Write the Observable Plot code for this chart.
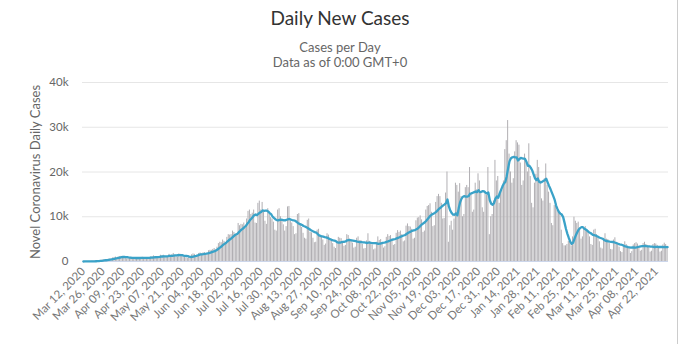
<!DOCTYPE html>
<html><head><meta charset="utf-8">
<script src="https://cdn.jsdelivr.net/npm/d3@7"></script>
<script src="https://cdn.jsdelivr.net/npm/@observablehq/plot@0.6"></script>
<style>
body{margin:0;background:#fff;font-family:Lato,"Liberation Sans",sans-serif;}
#wrap{position:relative;width:680px;height:344px;overflow:hidden;}
#title{position:absolute;left:0;width:680px;top:6px;text-align:center;font-size:19px;color:#333;}
.sub{position:absolute;left:0;width:680px;text-align:center;font-size:13px;color:#666;line-height:14px;}
#ylab{position:absolute;left:35px;top:172px;transform:translate(-50%,-50%) rotate(-90deg);white-space:nowrap;font-size:13px;color:#666;}
#chart{position:absolute;left:0;top:72px;}
#border{position:absolute;left:677px;top:0;width:1px;height:344px;background:#ccc;}
</style></head>
<body>
<div id="wrap">
  <div id="title">Daily New Cases</div>
  <div class="sub" style="top:40px">Cases per Day</div>
  <div class="sub" style="top:55px">Data as of 0:00 GMT+0</div>
  <div id="ylab">Novel Coronavirus Daily Cases</div>
  <div id="chart"></div>
  <div id="border"></div>
</div>
<script>
// Daily new cases, one value per day from Mar 12, 2020
const firstDay = "2020-03-12";
const cases = [
5,8,12,16,20,30,60,
80,100,120,130,180,220,280,
350,420,380,380,500,550,600,
800,900,1000,800,1000,1100,1150,
1100,900,900,600,650,900,800,
900,850,800,650,600,850,900,
950,900,850,700,650,900,1000,
1100,1250,1050,900,800,1150,1400,
1300,1400,1200,900,900,1600,1350,
1500,1800,1400,1100,1000,1700,1600,
1300,1150,1050,800,700,950,1100,
1500,1700,1600,1300,1300,1800,1900,
1700,1900,2000,1600,1700,2400,2500,
2500,2700,2900,2600,3200,4000,4300,
4200,4800,4500,4000,5400,6000,5900,
6000,6800,6500,5600,6200,8500,8000,
8300,8200,8600,7400,9500,11200,11500,
10500,10800,11500,8600,8500,13000,13500,
11500,13200,11000,9000,8300,11800,11000,
9800,9500,8800,7000,6800,11500,11800,
10000,9200,8200,6800,7800,12200,12300,
9000,8600,7800,6000,6200,10500,10700,
8200,7600,6300,5200,5000,9200,9500,
6500,6400,5200,4200,4300,7000,7200,
5800,5500,4800,3600,3900,6200,5900,
4900,4600,4000,3200,2900,4400,5400,
5200,5100,4500,3400,3600,6000,5800,
5000,4800,4100,3000,3200,5200,5500,
4600,4700,3800,2800,2900,4600,6200,
4500,4200,3700,2600,2800,4300,5500,
4700,4900,4200,3000,3300,5400,6000,
5600,5800,5000,3600,3800,6300,6900,
6500,6800,6000,4400,4600,7900,8400,
7800,7700,7200,5000,5200,9100,9700,
9800,10200,9300,6500,6800,11500,12300,
12500,12900,11000,7800,8000,13200,14500,
15000,14500,13000,9500,9600,15300,20000,
4300,8000,9000,7000,9500,17500,17000,
15500,17400,14500,10000,10500,16500,17000,
16500,21000,15000,11000,11500,17500,16000,
19600,18000,15500,12000,11000,15500,14800,
21000,6000,10000,10500,13500,22600,18000,
19000,13000,15500,16000,18000,25000,27000,
31500,24000,20000,17500,18500,24500,27000,
26500,26000,22000,17000,18000,24000,22500,
20000,26300,19000,13000,12000,17500,19500,
22600,21000,18000,14000,13500,18500,21800,
17000,15500,13000,8500,8000,12500,13000,
11400,11000,10500,7000,4000,3500,3500,
3800,4500,4800,3500,5500,9900,9000,
8500,8800,7000,5000,5500,7500,7800,
7000,6500,5500,3800,3600,7000,7200,
6000,5200,4400,3000,2800,5100,6200,
5000,4900,4000,2700,2600,4800,5300,
4300,4000,3200,2200,2000,3600,4400,
3800,3200,2900,1800,2200,3700,4000,
4200,3900,3300,2300,2500,4000,4300,
3800,3600,3100,2100,2300,3800,4000,
3900,3600,3000,2100,2300,3700,4100,
3800,3400
];
const xTickLabels = [
"Mar 12, 2020","Mar 26, 2020","Apr 09, 2020","Apr 23, 2020","May 07, 2020","May 21, 2020",
"Jun 04, 2020","Jun 18, 2020","Jul 02, 2020","Jul 16, 2020","Jul 30, 2020","Aug 13, 2020",
"Aug 27, 2020","Sep 10, 2020","Sep 24, 2020","Oct 08, 2020","Oct 22, 2020","Nov 05, 2020",
"Nov 19, 2020","Dec 03, 2020","Dec 17, 2020","Dec 31, 2020","Jan 14, 2021","Jan 28, 2021",
"Feb 11, 2021","Feb 25, 2021","Mar 11, 2021","Mar 25, 2021","Apr 08, 2021","Apr 22, 2021"
];
const yTicks = [0, 10000, 20000, 30000, 40000];

const fmt = d3.utcFormat("%b %d, %Y");
const start = new Date(firstDay + "T00:00:00Z");
const dates = cases.map((_, i) => fmt(d3.utcDay.offset(start, i)));
const data = cases.map((v, i) => ({date: dates[i], cases: v}));

const chart = Plot.plot({
  width: 680, height: 272,
  marginTop: 10, marginLeft: 82, marginRight: 12, marginBottom: 83,
  style: {fontFamily: "Lato, 'Liberation Sans', sans-serif", fontSize: "11px", color: "#666", background: "transparent"},
  x: {type: "band", domain: dates, padding: 0.3, axis: null},
  y: {domain: [0, 40000], axis: null},
  marks: [
    Plot.gridY(yTicks, {stroke: "#e6e6e6", strokeOpacity: 1}),
    Plot.axisY(yTicks, {tickSize: 0, tickPadding: 14, label: null, fill: "#666",
      tickFormat: d => d === 0 ? "0" : (d / 1000) + "k", fontSize: 11.5}),
    Plot.axisX(xTickLabels, {tickSize: 0, tickPadding: 8, tickRotate: -45, label: null, fill: "#777", fontSize: 11.5}),
    Plot.barY(data, {x: "date", y: "cases", fill: "#b0aeb2"}),
    Plot.ruleY([0], {stroke: "#ccd6eb"}),
    Plot.lineY(data, Plot.windowY({k: 7, anchor: "end"}, {x: "date", y: "cases", stroke: "#3aa2c8", strokeWidth: 2.3}))
  ]
});
document.getElementById("chart").appendChild(chart);
</script>
</body></html>
